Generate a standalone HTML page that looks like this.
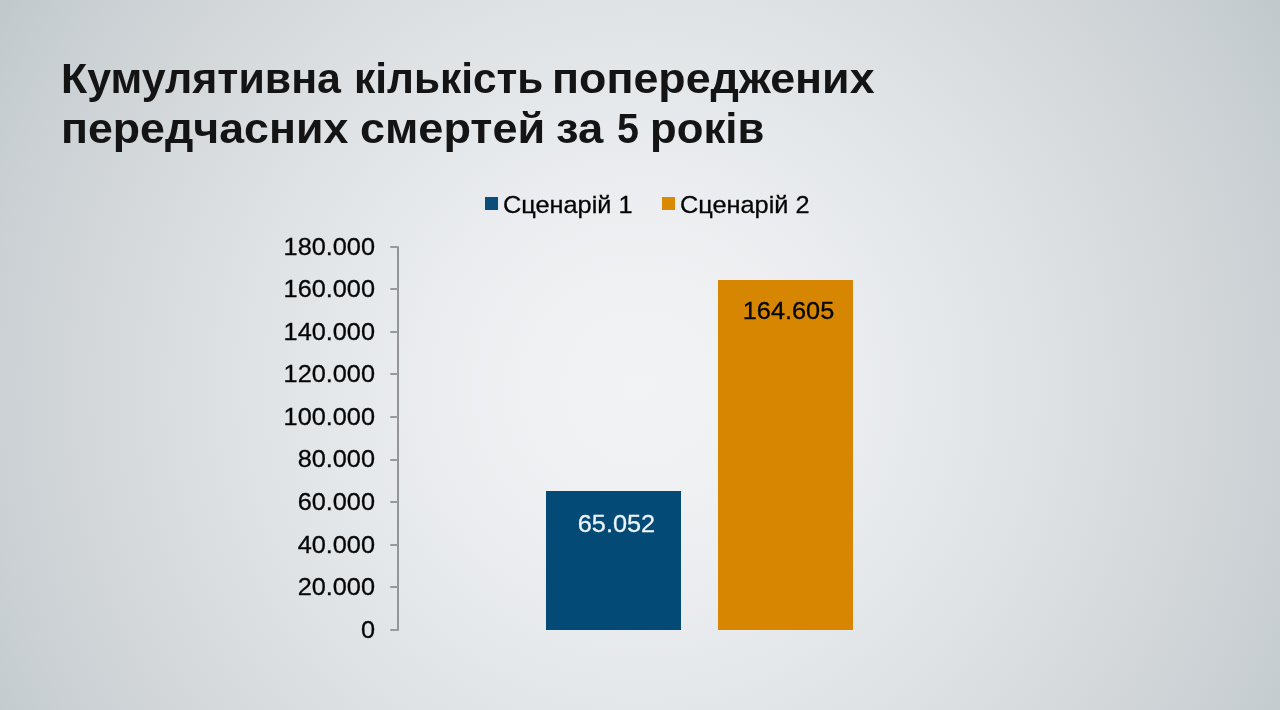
<!DOCTYPE html>
<html lang="uk">
<head>
<meta charset="utf-8">
<title>Кумулятивна кількість попереджених передчасних смертей за 5 років</title>
<style>
  html, body { margin: 0; padding: 0; }
  body {
    width: 1280px; height: 710px; overflow: hidden; position: relative;
    font-family: "Liberation Sans", sans-serif;
    background-color: #d5d9dc;
    background-image: radial-gradient(circle 760px at 640px 388px, rgb(242,243,245) 0px, rgb(240,241,243) 100px, rgb(235,237,240) 200px, rgb(229,232,235) 300px, rgb(223,226,229) 400px, rgb(215,219,222) 500px, rgb(207,212,215) 600px, rgb(198,205,208) 700px, rgb(192,199,203) 760px);
  }
  .abs { position: absolute; white-space: nowrap; -webkit-text-stroke: 0.3px currentColor; }
  h1 { position: absolute; margin: 0; left: 0; top: 0; width: 1280px; height: 170px;
    font-weight: bold; font-size: 43px; line-height: 50px; color: #141414; }
  h1 .w { position: absolute; display: block; white-space: pre; transform-origin: 0 50%; }
  .legend { top: 191px; transform: scaleX(1.037); transform-origin: 0 50%; font-size: 24.4px; line-height: 28px; color: #050505; }
  .sw { position: absolute; width: 13px; height: 12.7px; }
  .ylab { right: 904.6px; transform: scaleX(1.037); transform-origin: 100% 50%; width: 120px; text-align: right; font-size: 24.4px; line-height: 28px; color: #050505; }
  .axis { position: absolute; left: 396.8px; top: 246px; width: 2.1px; height: 385px; background: #939597; border-radius: 1px; }
  .tick { position: absolute; left: 390px; width: 8px; height: 2px; background: #97999b; border-radius: 1px 0 0 1px; }
  .bar { position: absolute; }
  .val { transform: scaleX(1.037); transform-origin: 50% 50%; font-size: 24.4px; line-height: 28px; text-align: center; }
</style>
</head>
<body>
<h1><span class="w" style="left:61.0px; top:52.5px; transform:scaleX(0.9985);">Кумулятивна </span><span class="w" style="left:354.04px; top:52.5px; transform:scaleX(0.9856);">кількість </span><span class="w" style="left:551.87px; top:52.5px; transform:scaleX(1.0413);">попереджених</span><span class="w" style="left:60.6px; top:102.5px; transform:scaleX(1.039);">передчасних </span><span class="w" style="left:360.20px; top:102.5px; transform:scaleX(1.0474);">смертей </span><span class="w" style="left:556.14px; top:102.5px; transform:scaleX(1.0554);">за </span><span class="w" style="left:617.07px; top:102.5px; transform:scaleX(0.9184);">5 </span><span class="w" style="left:649.95px; top:102.5px; transform:scaleX(1.0167);">років</span></h1>

<div class="sw" style="left:485.3px; top:197.3px; background:#0a4c7a;"></div>
<div class="abs legend" style="left:503px;">Сценарій 1</div>
<div class="sw" style="left:662px; top:197.3px; background:#d98a00;"></div>
<div class="abs legend" style="left:679.5px;">Сценарій 2</div>

<div class="axis"></div>
<div class="tick" style="top:246px"></div>
<div class="tick" style="top:288px"></div>
<div class="tick" style="top:331px"></div>
<div class="tick" style="top:373px"></div>
<div class="tick" style="top:416px"></div>
<div class="tick" style="top:459px"></div>
<div class="tick" style="top:501px"></div>
<div class="tick" style="top:544px"></div>
<div class="tick" style="top:586px"></div>
<div class="tick" style="top:629px"></div>

<div class="abs ylab" style="top:232.65px">180.000</div>
<div class="abs ylab" style="top:275.21px">160.000</div>
<div class="abs ylab" style="top:317.76px">140.000</div>
<div class="abs ylab" style="top:360.32px">120.000</div>
<div class="abs ylab" style="top:402.87px">100.000</div>
<div class="abs ylab" style="top:445.43px">80.000</div>
<div class="abs ylab" style="top:487.98px">60.000</div>
<div class="abs ylab" style="top:530.54px">40.000</div>
<div class="abs ylab" style="top:573.09px">20.000</div>
<div class="abs ylab" style="top:615.65px">0</div>

<div class="bar" style="left:546px; top:491.4px; width:135.4px; height:138.4px; background:#034a77;"></div>
<div class="bar" style="left:717.8px; top:279.6px; width:135.3px; height:350.2px; background:#d68600;"></div>
<div class="abs val" style="left:546.1px; width:141px; top:509.6px; color:#eef3f8;">65.052</div>
<div class="abs val" style="left:717.7px; width:141px; top:297.4px; color:#050505;">164.605</div>
</body>
</html>
